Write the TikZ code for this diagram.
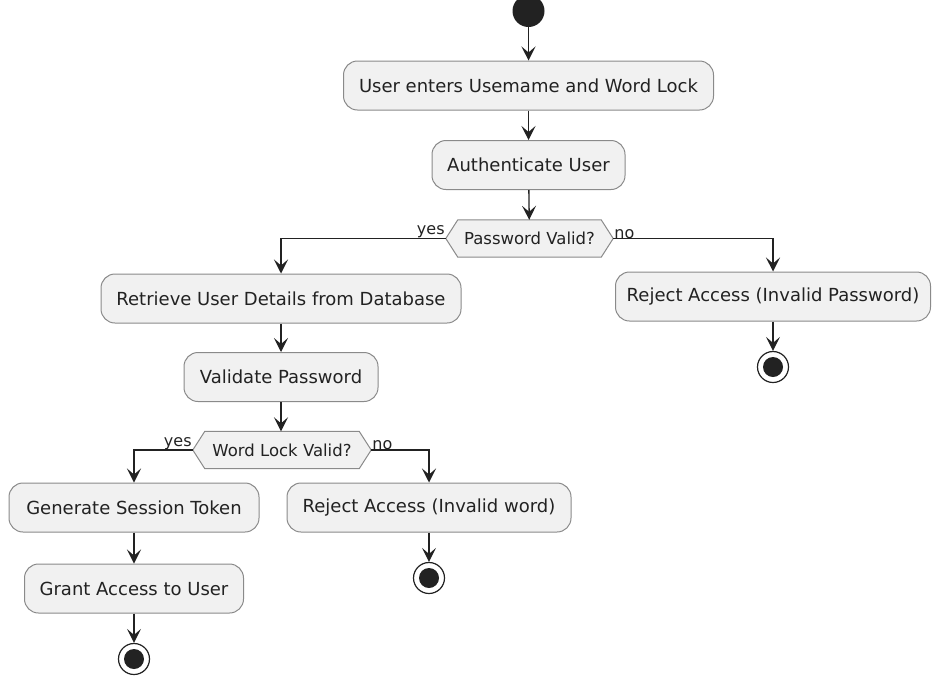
\documentclass[tikz,border=0pt]{standalone}
\usepackage{fontspec}
\setmainfont{DejaVu Sans}
\usetikzlibrary{arrows.meta,backgrounds}
\definecolor{boxfill}{HTML}{F1F1F1}
\definecolor{boxline}{HTML}{8A8A8A}
\definecolor{ink}{HTML}{222222}
\tikzset{
  act/.style={draw=boxline, line width=1pt, fill=boxfill, rounded corners=14pt,
    minimum height=49pt, inner sep=0pt, text=ink, font=\fontsize{18}{21}\selectfont},
  decn/.style={minimum height=37pt, inner sep=0pt, text=ink, font=\fontsize{16.5}{19}\selectfont},
  lbl/.style={text=ink, font=\fontsize{16}{18}\selectfont, inner sep=1pt},
  arr/.style={draw=ink, line width=1.3pt, -{Stealth[length=14pt,width=14pt,inset=6pt]}},
  startc/.style={circle, fill=ink, minimum size=32pt, inner sep=0pt},
  endc/.style={circle, draw=ink, line width=1.2pt, fill=white, minimum size=31pt, inner sep=0pt,
    path picture={\fill[ink] (path picture bounding box.center) circle (10pt);}}
}
\begin{document}
\begin{tikzpicture}[x=1pt,y=-1pt]
\useasboundingbox (0,0) rectangle (933,678);
\node[startc] (start) at (528.5,11) {};
\node[act, minimum width=370pt] (b1) at (528.5,85.5) {User enters Usemame and Word Lock};
\node[act, minimum width=193pt] (b2) at (528.5,165) {Authenticate User};
\node[decn, minimum width=167pt] (d1) at (529.5,238.5) {Password Valid?};
\node[act, minimum width=360pt] (ret) at (281,298.5) {Retrieve User Details from Database};
\node[act, minimum width=315pt] (rejp) at (773,296.5) {Reject Access (Invalid Password)};
\node[endc] (e1) at (773,367) {};
\node[act, minimum width=194pt] (val) at (281,377) {Validate Password};
\node[decn, minimum width=178pt] (d2) at (282,450) {Word Lock Valid?};
\node[act, minimum width=250pt] (gen) at (134,507.5) {Generate Session Token};
\node[act, minimum width=219pt] (grant) at (134,588.5) {Grant Access to User};
\node[endc] (e3) at (134,659) {};
\node[act, minimum width=284pt] (rejw) at (429,507.5) {Reject Access (Invalid word)};
\node[endc] (e2) at (429,578) {};
\begin{scope}[on background layer]
  \foreach \d in {d1,d2}{
    \filldraw[draw=boxline, line width=1pt, fill=boxfill]
      (\d.west) -- ([xshift=12pt]\d.north west) -- ([xshift=-12pt]\d.north east)
      -- (\d.east) -- ([xshift=-12pt]\d.south east) -- ([xshift=12pt]\d.south west) -- cycle;
  }
\end{scope}
\draw[arr] (start) -- (b1);
\draw[arr] (b1) -- (b2);
\draw[arr] (b2) -- (d1);
\draw[arr] (d1.west) -| (ret.north);
\draw[arr] (d1.east) -| (rejp.north);
\node[lbl, anchor=south east] (y1) at ([yshift=-1pt]d1.west) {yes};
\node[lbl, anchor=south west] (n1) at ([yshift=-1pt]d1.east) {no};
\draw[arr] (rejp) -- (e1);
\draw[arr] (ret.south -| val.north) -- (val);
\draw[arr] (val.south) -- (val.south |- d2.north);
\draw[arr] (d2.west) -| (gen.north);
\draw[arr] (d2.east) -| (rejw.north);
\node[lbl, anchor=south east] (y2) at ([yshift=-1pt]d2.west) {yes};
\node[lbl, anchor=south west] (n2) at ([yshift=-1pt]d2.east) {no};
\draw[arr] (gen) -- (grant);
\draw[arr] (grant) -- (e3);
\draw[arr] (rejw) -- (e2);
\end{tikzpicture}
\end{document}
